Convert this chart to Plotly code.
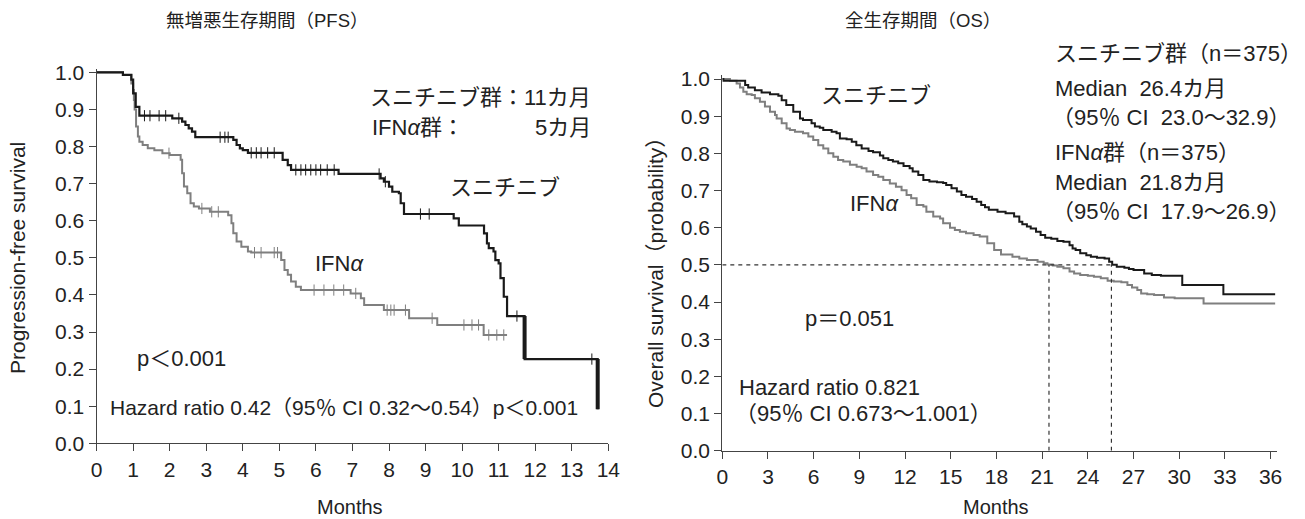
import plotly.graph_objects as go

W, H = 1305, 519

# ---------------- data ----------------
# PFS: Sunitinib
pfs_sun_t = [0, 0.72, 0.95, 1.0, 1.07, 1.17, 2.07, 2.34, 2.43, 2.52, 2.61, 2.7, 3.74, 3.83, 3.92, 4.0,
             4.14, 5.09, 5.23, 5.32, 6.62, 7.77, 7.86, 8.0, 8.09, 8.27, 8.32, 8.41, 9.77, 9.91, 10.6,
             10.68, 10.73, 10.86, 10.91, 11.0, 11.05, 11.14, 11.23, 11.71, 13.71]
pfs_sun_s = [1.0, 0.993, 0.98, 0.943, 0.907, 0.883, 0.876, 0.867, 0.858, 0.849, 0.84, 0.825, 0.818, 0.804,
             0.795, 0.79, 0.783, 0.764, 0.75, 0.737, 0.726, 0.714, 0.705, 0.692, 0.678, 0.674, 0.647, 0.618,
             0.606, 0.587, 0.566, 0.539, 0.526, 0.517, 0.494, 0.485, 0.445, 0.395, 0.343, 0.227, 0.092]
pfs_sun_cens = [1.31, 1.46, 1.71, 1.89, 2.25, 3.38, 3.51, 3.6, 4.23, 4.37, 4.5, 4.68, 4.86, 5.45, 5.59,
                5.72, 5.86, 6.0, 6.13, 6.31, 6.5, 7.73, 7.9, 8.86, 9.1, 11.5, 13.55]

# PFS: IFN-alpha
pfs_ifn_t = [0, 0.72, 0.95, 1.0, 1.02, 1.04, 1.08, 1.13, 1.17, 1.26, 1.4, 1.58, 1.8, 2.0, 2.3, 2.34, 2.39,
             2.48, 2.57, 2.66, 2.8, 3.1, 3.6, 3.69, 3.74, 3.83, 3.96, 4.14, 4.23, 5.05, 5.14, 5.23, 5.32,
             5.45, 5.59, 6.95, 7.23, 7.32, 7.86, 8.55, 9.32, 10.59, 11.23]
pfs_ifn_s = [1.0, 0.993, 0.97, 0.952, 0.925, 0.9, 0.854, 0.827, 0.813, 0.804, 0.795, 0.79, 0.782, 0.777,
             0.764, 0.728, 0.692, 0.674, 0.647, 0.638, 0.633, 0.624, 0.615, 0.593, 0.566, 0.544, 0.53, 0.517,
             0.514, 0.494, 0.467, 0.454, 0.436, 0.422, 0.413, 0.404, 0.391, 0.373, 0.359, 0.337, 0.319,
             0.292, 0.292]
pfs_ifn_cens = [1.98, 2.88, 3.15, 3.33, 4.32, 4.5, 4.86, 4.95, 5.95, 6.22, 6.49, 6.76, 7.09, 7.95, 8.05,
                8.14, 8.45, 9.18, 10.05, 10.27, 10.45, 10.73, 10.95, 11.14]

# OS: Sunitinib
os_sun_t = [0, 0.07, 1.5, 1.7, 2.14, 2.58, 3.13, 3.68, 3.9, 4.2, 4.66, 5.1, 5.3, 5.86, 6.08, 6.4, 6.63, 7.18,
            7.5, 7.72, 8.16, 8.5, 8.8, 9.15, 9.6, 9.9, 10.35, 10.57, 10.9, 11.2, 11.55, 11.9, 12.3, 12.5,
            12.87, 13.2, 13.6, 14.1, 14.5, 14.7, 15.05, 15.4, 15.7, 16.0, 16.4, 16.7, 17.0, 17.25, 17.5,
            18.07, 18.6, 19.16, 19.5, 19.7, 20.0, 20.25, 20.6, 20.9, 21.2, 21.6, 22.0, 22.4, 22.8, 23.0,
            23.2, 23.5, 23.9, 24.2, 24.6, 25.1, 25.4, 25.6, 25.9, 26.4, 26.7, 27.0, 27.7, 28.2, 28.8, 30.2,
            32.9, 36.3]
os_sun_s = [1.0, 0.995, 0.984, 0.977, 0.97, 0.964, 0.959, 0.955, 0.943, 0.93, 0.912, 0.894, 0.89, 0.881,
            0.872, 0.869, 0.863, 0.858, 0.854, 0.84, 0.838, 0.831, 0.822, 0.813, 0.806, 0.803, 0.794, 0.787,
            0.782, 0.778, 0.773, 0.766, 0.76, 0.751, 0.742, 0.728, 0.724, 0.722, 0.72, 0.715, 0.706, 0.697,
            0.688, 0.683, 0.677, 0.67, 0.661, 0.655, 0.648, 0.643, 0.639, 0.63, 0.616, 0.609, 0.603, 0.598,
            0.589, 0.58, 0.573, 0.57, 0.564, 0.562, 0.553, 0.544, 0.54, 0.531, 0.526, 0.522, 0.519, 0.517,
            0.508, 0.5, 0.495, 0.492, 0.489, 0.486, 0.477, 0.473, 0.471, 0.446, 0.421, 0.421]

# OS: IFN-alpha
os_ifn_t = [0, 0.5, 0.94, 1.16, 1.38, 1.6, 1.93, 2.14, 2.47, 2.8, 3.13, 3.46, 3.57, 3.9, 4.22, 4.44, 4.77,
            5.3, 5.65, 5.97, 6.3, 6.63, 6.96, 7.29, 7.6, 7.94, 8.38, 8.82, 9.15, 9.47, 9.9, 10.24, 10.57,
            11.0, 11.4, 11.77, 12.1, 12.4, 12.76, 13.2, 13.4, 13.85, 14.3, 14.5, 14.95, 15.27, 15.6, 16.0,
            16.5, 16.9, 17.4, 17.85, 18.3, 19.05, 19.5, 20.0, 20.7, 21.1, 21.35, 21.7, 22.0, 22.4, 22.8,
            23.1, 23.5, 24.0, 24.4, 24.85, 25.3, 25.7, 26.2, 26.6, 26.9, 27.25, 27.5, 27.9, 28.35, 29.0,
            29.7, 31.6, 36.3]
os_ifn_s = [1.0, 0.995, 0.988, 0.977, 0.966, 0.959, 0.957, 0.948, 0.939, 0.926, 0.912, 0.903, 0.894, 0.881,
            0.867, 0.863, 0.858, 0.854, 0.845, 0.836, 0.822, 0.813, 0.8, 0.791, 0.782, 0.778, 0.769, 0.764,
            0.76, 0.751, 0.742, 0.737, 0.728, 0.719, 0.71, 0.701, 0.688, 0.679, 0.661, 0.657, 0.643, 0.63,
            0.625, 0.612, 0.6, 0.594, 0.589, 0.585, 0.58, 0.576, 0.558, 0.54, 0.528, 0.522, 0.517, 0.513,
            0.508, 0.504, 0.501, 0.498, 0.495, 0.491, 0.482, 0.477, 0.473, 0.471, 0.468, 0.464, 0.457,
            0.455, 0.453, 0.446, 0.439, 0.432, 0.423, 0.421, 0.419, 0.412, 0.41, 0.396, 0.396]

# median reference lines on OS chart (as drawn in the reference)
os_median_level = 0.5
os_median_x = [21.45, 25.55]

pfs_xticks = list(range(0, 15))
os_xticks = list(range(0, 37, 3))
yticks = [i / 10 for i in range(0, 11)]

# ---------------- helpers ----------------
BLACK = "#1a1a1a"
GRAY = "#7f7f7f"
TXT = "#222222"
FONT = "Liberation Sans, Arial, Noto Sans CJK JP, sans-serif"


def px(x):
    return x / W


def py(y):
    return 1 - y / H


def step_at(ts, ss, t):
    v = ss[0]
    for ti, si in zip(ts, ss):
        if ti <= t:
            v = si
        else:
            break
    return v


fig = go.Figure()

# PFS curves
fig.add_trace(go.Scatter(x=pfs_ifn_t, y=pfs_ifn_s, mode="lines", line=dict(shape="hv", color=GRAY, width=2),
                         xaxis="x", yaxis="y", showlegend=False))
fig.add_trace(go.Scatter(x=pfs_sun_t, y=pfs_sun_s, mode="lines", line=dict(shape="hv", color=BLACK, width=2.2),
                         xaxis="x", yaxis="y", showlegend=False))
# the last two drops of the sunitinib PFS curve are drawn heavier in the reference
for i in (len(pfs_sun_t) - 2, len(pfs_sun_t) - 1):
    fig.add_trace(go.Scatter(x=[pfs_sun_t[i], pfs_sun_t[i]], y=[pfs_sun_s[i - 1], pfs_sun_s[i]], mode="lines",
                             line=dict(color=BLACK, width=4), xaxis="x", yaxis="y", showlegend=False))
fig.add_trace(go.Scatter(x=pfs_ifn_cens, y=[step_at(pfs_ifn_t, pfs_ifn_s, t) for t in pfs_ifn_cens],
                         mode="markers", marker=dict(symbol="line-ns", size=8, line=dict(width=1, color=GRAY)),
                         xaxis="x", yaxis="y", showlegend=False))
fig.add_trace(go.Scatter(x=pfs_sun_cens, y=[step_at(pfs_sun_t, pfs_sun_s, t) for t in pfs_sun_cens],
                         mode="markers", marker=dict(symbol="line-ns", size=8, line=dict(width=1, color=BLACK)),
                         xaxis="x", yaxis="y", showlegend=False))

# OS curves
fig.add_trace(go.Scatter(x=os_ifn_t, y=os_ifn_s, mode="lines", line=dict(shape="hv", color=GRAY, width=2),
                         xaxis="x2", yaxis="y2", showlegend=False))
fig.add_trace(go.Scatter(x=os_sun_t, y=os_sun_s, mode="lines", line=dict(shape="hv", color=BLACK, width=2),
                         xaxis="x2", yaxis="y2", showlegend=False))

# dashed median lines
dash_style = dict(color="#333333", width=1.2, dash="4px,4px")
fig.add_shape(type="line", xref="x2", yref="y2", x0=0, x1=max(os_median_x), y0=os_median_level,
              y1=os_median_level, line=dash_style)
for mx in os_median_x:
    fig.add_shape(type="line", xref="x2", yref="y2", x0=mx, x1=mx, y0=0, y1=os_median_level, line=dash_style)

# ---------------- axes ----------------
axis_common = dict(showline=True, linecolor="#444444", linewidth=1.2, ticks="outside", ticklen=7,
                   tickwidth=1, tickcolor="#444444", showgrid=False, zeroline=False, automargin=False,
                   tickfont=dict(family=FONT, size=21, color=TXT))

# plot geometry (pixels)
L_x0, L_x1 = 96.6, 608.3
L_y0 = 443.3
L_unit = 371.0
R_x0, R_month = 722.3, 15.23
R_xmax = 36.4
R_y0 = 450.7
R_unit = 371.7
YMAX = 1.01

fig.update_layout(
    width=W, height=H, margin=dict(l=0, r=0, t=0, b=0, autoexpand=False),
    paper_bgcolor="white", plot_bgcolor="white", showlegend=False,
    xaxis=dict(axis_common, domain=[px(L_x0), px(L_x1)], range=[0, 14], tickvals=pfs_xticks, anchor="y"),
    yaxis=dict(axis_common, domain=[py(L_y0), py(L_y0 - L_unit * YMAX)], range=[0, YMAX],
               tickvals=yticks, tickformat=".1f", anchor="x"),
    xaxis2=dict(axis_common, domain=[px(R_x0), px(R_x0 + R_month * R_xmax)], range=[0, R_xmax],
                tickvals=os_xticks, anchor="y2"),
    yaxis2=dict(axis_common, domain=[py(R_y0), py(R_y0 - R_unit * YMAX)], range=[0, YMAX],
                tickvals=yticks, tickformat=".1f", anchor="x2"),
)

# ---------------- text ----------------
def note(text, x, y, xanchor="left", size=22, angle=0):
    fig.add_annotation(text=text, x=px(x), y=py(y), xref="paper", yref="paper", showarrow=False,
                       xanchor=xanchor, yanchor="middle", textangle=angle,
                       font=dict(family=FONT, size=size, color=TXT))

NB = "\u00a0"
# titles
note("無増悪生存期間（PFS）", 267, 20, "center", 18.5)
note("全生存期間（OS）", 923, 20, "center", 18.5)
# axis titles
note("Months", 350, 507, "center", 20)
note("Months", 996, 507, "center", 20)
note("Progression-free survival", 17, 258, "center", 21, -90)
note("Overall survival（probability）", 655, 268, "center", 21, -90)

# PFS annotations
note("スニチニブ群：11カ月", 593, 98, "right")
note("IFN<i>α</i>群：", 370, 127, "left")
note("5カ月", 593, 127, "right")
note("スニチニブ", 505, 188, "center")
note("IFN<i>α</i>", 313, 263, "left")
note("p＜0.001", 135, 358, "left")
note("Hazard ratio 0.42（95％ CI 0.32～0.54）p＜0.001", 108, 407, "left", 21)

# OS annotations
note("スニチニブ群（n＝375）", 1053, 53, "left")
note(f"Median{NB}{NB}26.4カ月", 1053, 88, "left")
note(f"（95％ CI{NB}{NB}23.0～32.9）", 1050, 118, "left")
note("IFN<i>α</i>群（n＝375）", 1053, 152, "left")
note(f"Median{NB}{NB}21.8カ月", 1053, 182, "left")
note(f"（95％ CI{NB}{NB}17.9～26.9）", 1050, 212, "left")
note("スニチニブ", 876, 95, "center")
note("IFN<i>α</i>", 848, 203, "left")
note("p＝0.051", 803, 318, "left")
note("Hazard ratio 0.821", 737, 387, "left")
note("（95％ CI 0.673～1.001）", 733, 413, "left")

fig.write_html("out.html", config={"displayModeBar": False},
               post_script="document.body.style.margin='0';document.body.style.overflow='hidden';")
